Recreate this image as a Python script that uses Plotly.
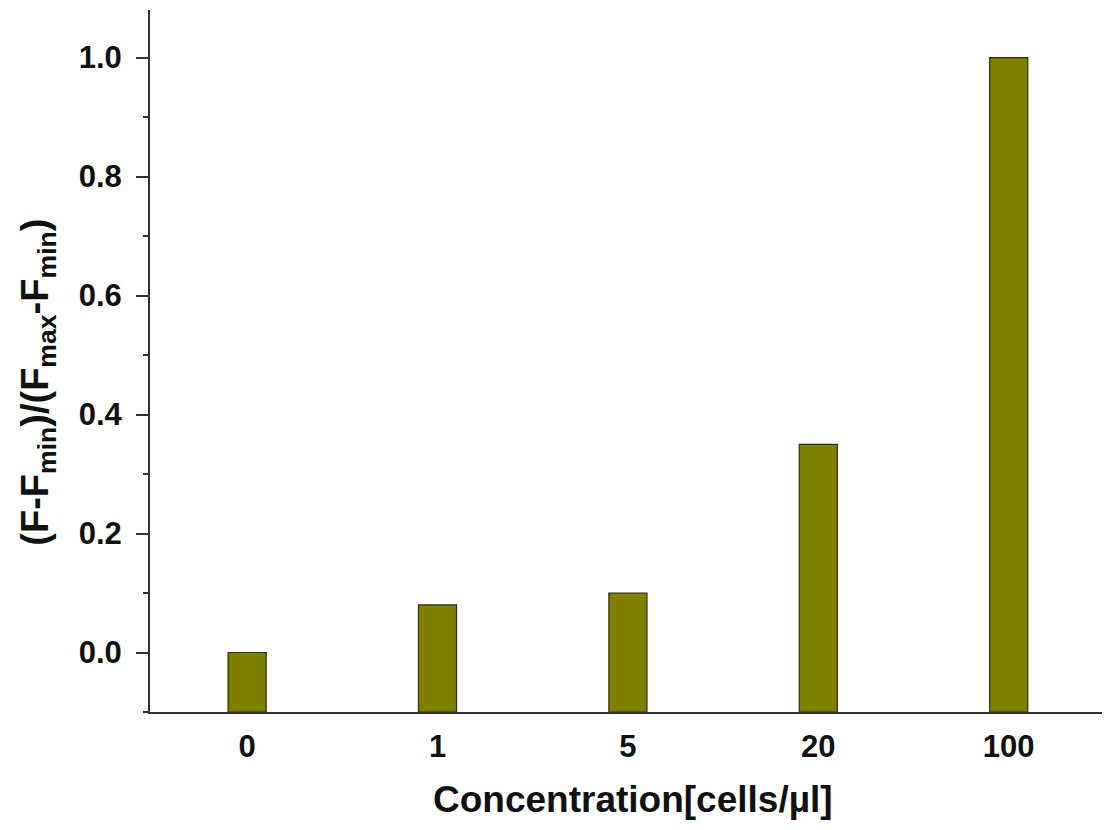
import plotly.graph_objects as go

# Concentration categories and normalised fluorescence response
categories = ["0", "1", "5", "20", "100"]
response = [0.0, 0.08, 0.10, 0.35, 1.0]

# Bars rise from the bottom of the value axis
y_floor = -0.1
y_top = 1.08

fig = go.Figure(
    go.Bar(
        x=list(range(len(categories))),
        y=[v - y_floor for v in response],
        base=y_floor,
        width=0.2,
        marker=dict(color="#808000", line=dict(color="#2b2b10", width=1.2)),
        hoverinfo="skip",
    )
)

font_family = "Liberation Sans, Arial, sans-serif"
tick_font = dict(size=31, family=font_family, weight="bold", color="#111111")
title_font = dict(size=37, family=font_family, weight="bold", color="#111111")

fig.update_layout(
    width=1104,
    height=830,
    margin=dict(l=150, r=2, t=10, b=118),
    plot_bgcolor="white",
    paper_bgcolor="white",
    showlegend=False,
    font=dict(family=font_family, color="#111111"),
    annotations=[
        dict(
            text="Concentration[cells/µl]",
            xref="paper", yref="paper",
            x=0.507, y=-0.125,
            xanchor="center", yanchor="middle",
            showarrow=False,
            font=title_font,
        ),
        dict(
            text="(F-F<sub>min</sub>)/(F<sub>max</sub>-F<sub>min</sub>)",
            xref="paper", yref="paper",
            x=-0.118, y=0.47,
            xanchor="center", yanchor="middle",
            textangle=-90,
            showarrow=False,
            font=dict(size=38, family=font_family, weight="bold", color="#111111"),
        ),
    ],
)

fig.update_xaxes(
    range=[-0.51, 4.49],
    tickmode="array",
    tickvals=list(range(len(categories))),
    ticktext=categories,
    ticks="",
    showgrid=False,
    zeroline=False,
    showline=True,
    linecolor="#333333",
    linewidth=2,
    tickfont=tick_font,
    ticklabelstandoff=6,
)

fig.update_yaxes(
    range=[y_floor, y_top],
    tickmode="array",
    tickvals=[0.0, 0.2, 0.4, 0.6, 0.8, 1.0],
    ticktext=["0.0", "0.2", "0.4", "0.6", "0.8", "1.0"],
    ticks="outside",
    ticklen=12,
    tickwidth=2,
    tickcolor="#333333",
    minor=dict(dtick=0.1, tick0=0, ticks="outside", ticklen=5, tickwidth=2, tickcolor="#333333"),
    showgrid=False,
    zeroline=False,
    showline=True,
    linecolor="#333333",
    linewidth=2,
    tickfont=tick_font,
    ticklabelstandoff=8,
)

fig.write_html("out.html")
